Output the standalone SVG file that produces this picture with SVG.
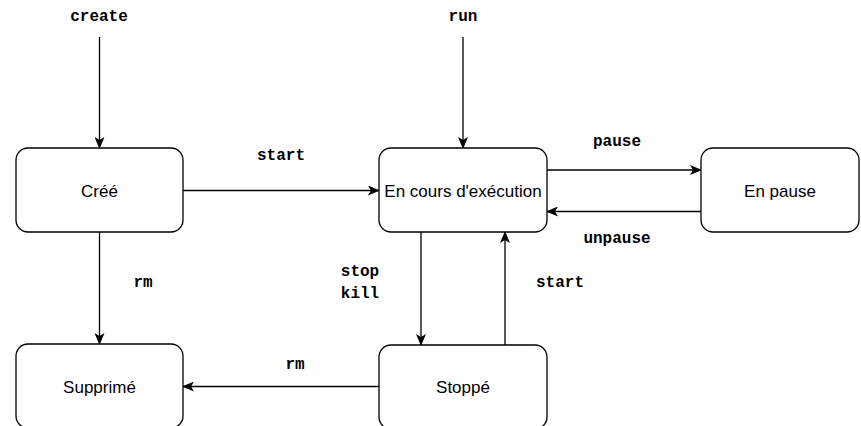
<svg xmlns="http://www.w3.org/2000/svg" width="861" height="426" viewBox="0 0 861 426">
<style>
.node rect{fill:#fff;stroke:#000;stroke-width:1.3}
.node text{font-family:"Liberation Sans",Arial,sans-serif;font-size:17px;text-anchor:middle;fill:#000}
.edge{fill:none;stroke:#000;stroke-width:1.3}
.lbl{font-family:"Liberation Mono","Courier New",monospace;font-weight:bold;font-size:16px;text-anchor:middle;fill:#000}
</style>
<defs>
<marker id="ar" viewBox="0 0 12 10" refX="11" refY="5" markerWidth="12" markerHeight="10" markerUnits="userSpaceOnUse" orient="auto">
<path d="M0,0 L12,5 L0,10 L3,5 Z" fill="#000"/>
</marker>
</defs>
<rect width="861" height="426" fill="#fff"/>
<g id="connectors">
<path class="edge" d="M99.5,37 V148" marker-end="url(#ar)"/>
<path class="edge" d="M463,37 V148" marker-end="url(#ar)"/>
<path class="edge" d="M183,190.5 H379" marker-end="url(#ar)"/>
<path class="edge" d="M547,170 H701" marker-end="url(#ar)"/>
<path class="edge" d="M701,211.5 H547" marker-end="url(#ar)"/>
<path class="edge" d="M99.5,232 V344" marker-end="url(#ar)"/>
<path class="edge" d="M421,232 V345" marker-end="url(#ar)"/>
<path class="edge" d="M505,345 V232" marker-end="url(#ar)"/>
<path class="edge" d="M379,386.5 H183" marker-end="url(#ar)"/>
<text class="lbl" x="99" y="21">create</text>
<text class="lbl" x="463" y="21">run</text>
<text class="lbl" x="281" y="160">start</text>
<text class="lbl" x="617" y="146">pause</text>
<text class="lbl" x="617" y="243">unpause</text>
<text class="lbl" x="143" y="287">rm</text>
<text class="lbl" x="360" y="276">stop</text>
<text class="lbl" x="360" y="298">kill</text>
<text class="lbl" x="560" y="287">start</text>
<text class="lbl" x="295" y="369">rm</text>
</g>
<g id="cree" class="node"><rect x="16" y="148" width="167" height="84" rx="12"/><text x="99.5" y="197">Créé</text></g>
<g id="encours" class="node"><rect x="379" y="148" width="168" height="84" rx="12"/><text x="463" y="197">En cours d'exécution</text></g>
<g id="enpause" class="node"><rect x="701" y="148" width="158" height="84" rx="12"/><text x="780" y="197">En pause</text></g>
<g id="supprime" class="node"><rect x="16" y="344" width="167" height="84" rx="12"/><text x="99.5" y="393">Supprimé</text></g>
<g id="stoppe" class="node"><rect x="379" y="345" width="168" height="84" rx="12"/><text x="463" y="393">Stoppé</text></g>
</svg>
